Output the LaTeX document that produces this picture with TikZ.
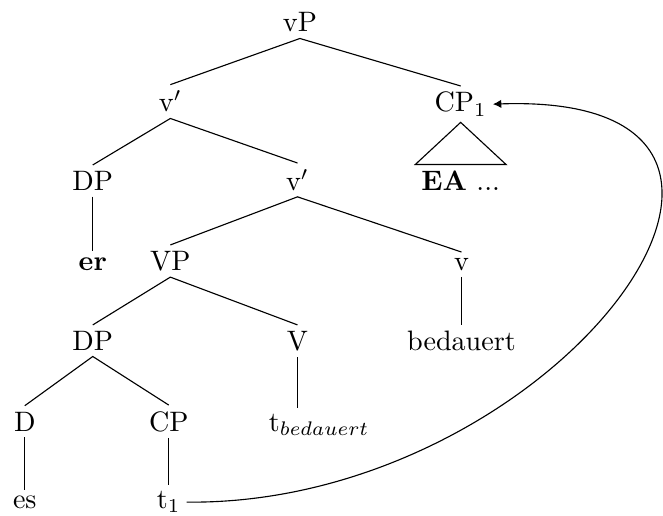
\documentclass[tikz,border=0pt]{standalone}
\usetikzlibrary{arrows.meta}

\begin{document}
\begin{tikzpicture}[lbl/.style={anchor=base,inner sep=2pt}]
				\useasboundingbox (0,0) rectangle (8.29,-6.44);
				
				\node[lbl] (vP) at (3.75,-0.40) {vP};
				\node[lbl] (v1) at (2.13,-1.40) {v$'$};
				\node[lbl] (CP1) at (5.76,-1.40) {CP$_1$};
				\node[lbl] (DPa) at (1.16,-2.38) {DP};
				\node[lbl] (v2) at (3.72,-2.38) {v$'$};
				\node[lbl] (EA) at (5.76,-2.38) {\textbf{EA} ...};
				\node[lbl] (er) at (1.16,-3.38) {\textbf{er}};
				\node[lbl] (VP) at (2.13,-3.38) {VP};
				\node[lbl] (v) at (5.77,-3.38) {v};
				\node[lbl] (DPb) at (1.16,-4.38) {DP};
				\node[lbl] (V) at (3.72,-4.38) {V};
				\node[lbl] (bed) at (5.77,-4.38) {bedauert};
				\node[lbl] (D) at (0.31,-5.39) {D};
				\node[lbl] (CP) at (2.11,-5.39) {CP};
				\node[lbl] (tbed) at (3.99,-5.39) {t$_{bedauert}$};
				\node[lbl] (es) at (0.31,-6.36) {es};
				\node[lbl] (t1) at (2.11,-6.36) {t$_1$};
				
				\draw (v1.north) -- (vP.south) -- (CP1.north);
				\draw (DPa.north) -- (v1.south) -- (v2.north);
				\draw (CP1.south) -- (EA.north west) -- (EA.north east) -- cycle;
				\draw (DPa.south) -- (er.north);
				\draw (VP.north) -- (v2.south) -- (v.north);
				\draw (DPb.north) -- (VP.south) -- (V.north);
				\draw (v.south) -- (bed.north);
				\draw (D.north) -- (DPb.south) -- (CP.north);
				\draw (V.south) -- (V.south |- tbed.north);
				\draw (D.south) -- (es.north);
				\draw (CP.south) -- (t1.north);
				
				\draw[-{Latex[length=3pt,width=3pt]}] (t1.east) .. controls +(4.63,-0.05) and +(4.6,0.16) .. (CP1.east);
			\end{tikzpicture}
\end{document}
